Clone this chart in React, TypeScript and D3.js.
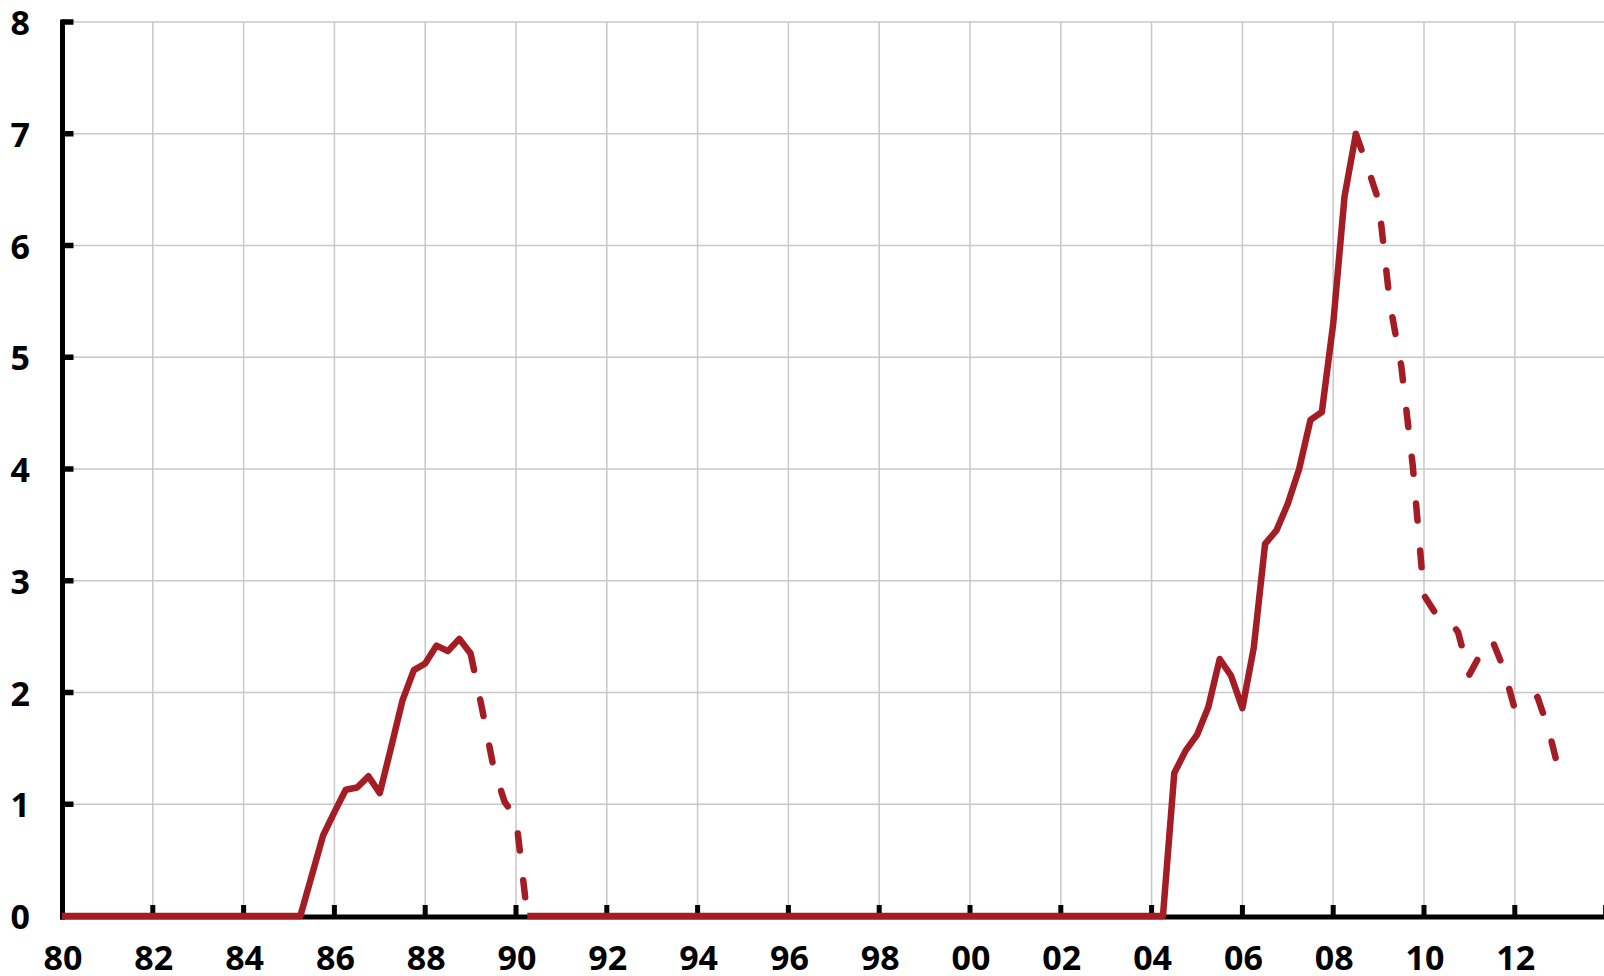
import React from "react";
import * as d3 from "d3";

// Quarterly observations (decimal year, value)
const solidYearsA = [1980.0, 1985.25, 1985.5, 1985.75, 1986.0, 1986.25, 1986.5, 1986.75, 1987.0, 1987.25, 1987.5, 1987.75, 1988.0, 1988.25, 1988.5, 1988.75, 1989.0];
const solidValuesA = [0, 0, 0.36, 0.72, 0.93, 1.13, 1.15, 1.25, 1.1, 1.51, 1.93, 2.2, 2.26, 2.42, 2.37, 2.48, 2.35];

const dashedYearsA = [1989.0, 1989.25, 1989.5, 1989.75, 1990.0, 1990.25];
const dashedValuesA = [2.35, 1.86, 1.34, 1.02, 0.88, 0];

const solidYearsB = [1990.25, 2004.25, 2004.5, 2004.75, 2005.0, 2005.25, 2005.5, 2005.75, 2006.0, 2006.25, 2006.5, 2006.75, 2007.0, 2007.25, 2007.5, 2007.75, 2008.0, 2008.25, 2008.5];
const solidValuesB = [0, 0, 1.28, 1.48, 1.62, 1.87, 2.3, 2.15, 1.86, 2.4, 3.33, 3.45, 3.69, 4.0, 4.44, 4.51, 5.3, 6.44, 7.0];

const dashedYearsB = [2008.5, 2008.75, 2009.0, 2009.25, 2009.5, 2009.75, 2010.0, 2010.25, 2010.5, 2010.75, 2011.0, 2011.25, 2011.5, 2011.75, 2012.0, 2012.25, 2012.5, 2012.75, 2013.0];
const dashedValuesB = [7.0, 6.71, 6.4, 5.48, 4.92, 4.04, 2.87, 2.71, 2.68, 2.54, 2.16, 2.35, 2.47, 2.22, 1.85, 1.88, 1.96, 1.66, 1.25];

const xTickYears = [1982, 1984, 1986, 1988, 1990, 1992, 1994, 1996, 1998, 2000, 2002, 2004, 2006, 2008, 2010, 2012, 2014];
const xLabelYears = [1980, 1982, 1984, 1986, 1988, 1990, 1992, 1994, 1996, 1998, 2000, 2002, 2004, 2006, 2008, 2010, 2012];
const xLabels = ["80", "82", "84", "86", "88", "90", "92", "94", "96", "98", "00", "02", "04", "06", "08", "10", "12"];
const yTicks = [0, 1, 2, 3, 4, 5, 6, 7, 8];

const W = 1604;
const H = 976;
const RED = "#A41D25";
const GRID = "#C8C8C8";
const FONT = "'Noto Sans', 'Open Sans', sans-serif";

export default function App() {
  const x = d3.scaleLinear().domain([1980, 2014]).range([62, 1605.6]);
  const y = d3.scaleLinear().domain([0, 8]).range([916, 22]);
  const line = d3
    .line<[number, number]>()
    .x((d) => x(d[0]))
    .y((d) => y(d[1]));
  const zip = (a: number[], b: number[]) => a.map((v, i) => [v, b[i]] as [number, number]);

  const solids = [zip(solidYearsA, solidValuesA), zip(solidYearsB, solidValuesB)];
  const dashes = [zip(dashedYearsA, dashedValuesA), zip(dashedYearsB, dashedValuesB)];

  return (
    <svg
      width={W}
      height={H}
      style={{ position: "absolute", left: 0, top: 0, background: "#fff" }}
    >
      {/* horizontal gridlines */}
      {yTicks
        .filter((t) => t > 0)
        .map((t) => (
          <line key={"hg" + t} x1={62} x2={W} y1={y(t)} y2={y(t)} stroke={GRID} strokeWidth={1.5} />
        ))}
      {/* vertical gridlines */}
      {xTickYears.map((t) => (
        <line key={"vg" + t} x1={x(t)} x2={x(t)} y1={y(8)} y2={y(0)} stroke={GRID} strokeWidth={1.5} />
      ))}
      {/* x axis */}
      <line x1={60} x2={W} y1={917} y2={917} stroke="#000" strokeWidth={5} />
      {xTickYears.map((t) => (
        <rect key={"xt" + t} x={x(t) - 2.5} y={905} width={5} height={10} fill="#000" />
      ))}
      {/* y axis */}
      <line x1={62.5} x2={62.5} y1={y(8) - 2.5} y2={919.5} stroke="#000" strokeWidth={5} />
      {yTicks
        .filter((t) => t > 0)
        .map((t) => (
          <rect key={"yt" + t} x={62} y={y(t) - 2.75} width={11.5} height={5.5} fill="#000" />
        ))}
      {/* y labels */}
      {yTicks.map((t) => (
        <text
          key={"yl" + t}
          x={30}
          y={y(t)}
          textAnchor="end"
          dominantBaseline="central"
          fontFamily={FONT}
          fontWeight={700}
          fontSize={34}
          fill="#000"
        >
          {t}
        </text>
      ))}
      {/* x labels */}
      {xLabelYears.map((t, i) => (
        <text
          key={"xl" + t}
          x={x(t) + 1}
          y={970}
          textAnchor="middle"
          fontFamily={FONT}
          fontWeight={700}
          fontSize={34}
          fill="#000"
        >
          {xLabels[i]}
        </text>
      ))}
      {/* series */}
      {solids.map((s, i) => (
        <path
          key={"s" + i}
          d={line(s) || ""}
          fill="none"
          stroke={RED}
          strokeWidth={6.5}
          strokeLinejoin="round"
          strokeLinecap="butt"
        />
      ))}
      {dashes.map((s, i) => (
        <path
          key={"d" + i}
          d={line(s) || ""}
          fill="none"
          stroke={RED}
          strokeWidth={6.5}
          strokeLinejoin="round"
          strokeLinecap="round"
          strokeDasharray="17 30"
        />
      ))}
    </svg>
  );
}
